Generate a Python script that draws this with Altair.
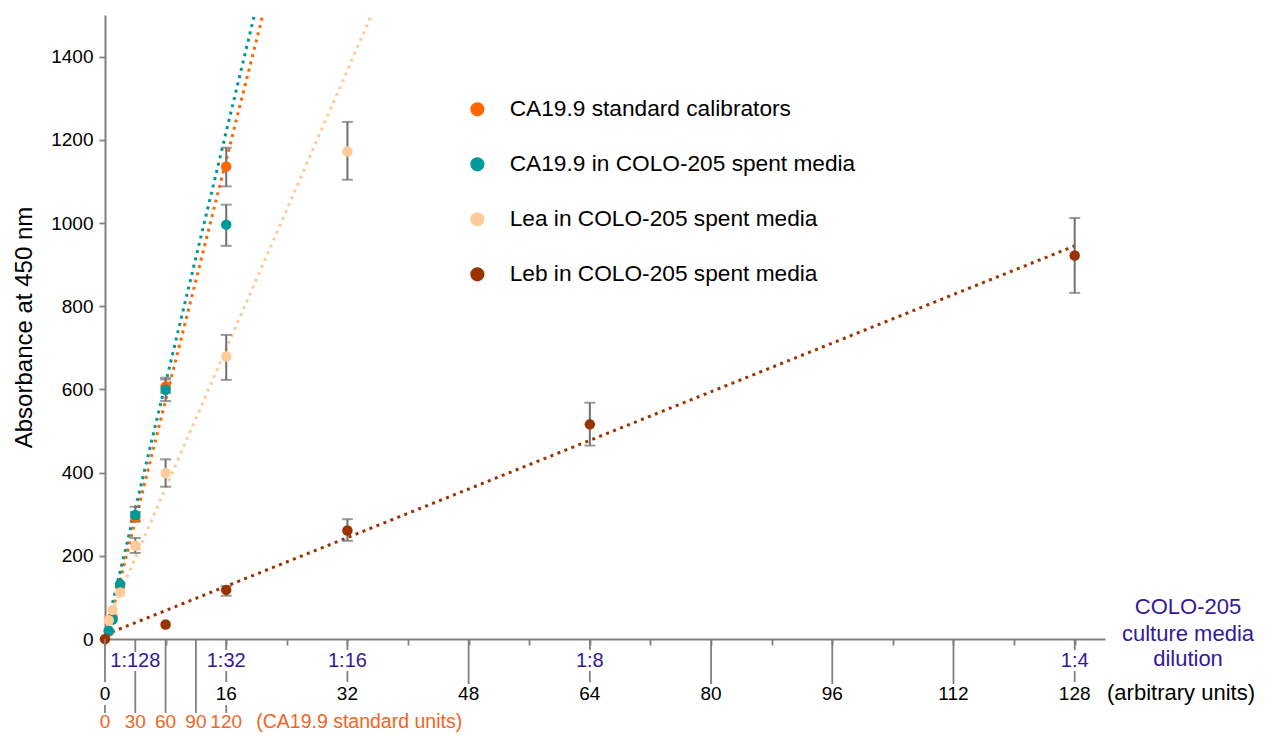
import altair as alt
import pandas as pd

FONT = "Liberation Sans"
GRAY = "#808080"
PURPLE = "#34189A"
ORANGE_TXT = "#F26522"

series_names = [
    "CA19.9 standard calibrators",
    "CA19.9 in COLO-205 spent media",
    "Lea in COLO-205 spent media",
    "Leb in COLO-205 spent media",
]
series_colors = ["#FF6600", "#009999", "#FFCC99", "#993300"]

# data points (x in arbitrary units, y absorbance)
std_x = [0.5, 1, 2, 4, 8, 16]
std_y = [18, 52, 128, 292, 607, 1136]
teal_x = [0.5, 1, 2, 4, 8, 16]
teal_y = [20, 47, 132, 298, 599, 996]
lea_x = [0.5, 1, 2, 4, 8, 16, 32]
lea_y = [45, 70, 112, 224, 399, 679, 1172]
leb_x = [0, 8, 16, 32, 64, 128]
leb_y = [0, 35, 118, 261, 516, 922]

# error bars: series index, x, low, high
err_series = [0, 0, 0, 1, 1, 1, 2, 2, 2, 2, 3, 3, 3, 3]
err_x = [4, 8, 16, 4, 8, 16, 4, 8, 16, 32, 16, 32, 64, 128]
err_lo = [282, 592, 1088, 284, 572, 945, 207, 366, 623, 1104, 104, 236, 465, 832]
err_hi = [305, 628, 1181, 318, 624, 1044, 243, 432, 731, 1243, 127, 288, 568, 1012]

# trend line endpoints
trend_x0 = [0.3, 0.3, 0.5, 0]
trend_y0 = [18, 34, 49, 10]
trend_x1 = [20.83, 19.72, 35.17, 128]
trend_y1 = [1500, 1500, 1500, 945]

# axis labels
dil_labels = ["1:128", "1:32", "1:16", "1:8", "1:4"]
dil_pos = [4, 16, 32, 64, 128]
arb_ticks = [0, 16, 32, 48, 64, 80, 96, 112, 128]
std_units = [0, 30, 60, 90, 120]
y_ticks = [0, 200, 400, 600, 800, 1000, 1200, 1400]

pts = pd.DataFrame({
    "series": [series_names[0]] * len(std_x) + [series_names[1]] * len(teal_x)
    + [series_names[2]] * len(lea_x) + [series_names[3]] * len(leb_x),
    "x": std_x + teal_x + lea_x + leb_x,
    "y": std_y + teal_y + lea_y + leb_y,
})
errs = pd.DataFrame({
    "series": [series_names[i] for i in err_series],
    "x": err_x, "lo": err_lo, "hi": err_hi,
})
trend_rows = []
for i, s in enumerate(series_names):
    trend_rows.append({"fit": s, "x": trend_x0[i], "y": trend_y0[i], "o": 0})
    trend_rows.append({"fit": s, "x": trend_x1[i], "y": trend_y1[i], "o": 1})
trend = pd.DataFrame(trend_rows)

x_scale = alt.Scale(domain=[0, 132], nice=False, zero=False)
y_scale = alt.Scale(domain=[0, 1500], nice=False)
color_scale = alt.Scale(domain=series_names, range=series_colors)

x_axis = alt.Axis(values=list(range(0, 133, 4)), labels=False, title=None, tickSize=6,
                  tickColor=GRAY, tickWidth=1.8, domainColor=GRAY, domainWidth=2, grid=False)
y_axis = alt.Axis(values=y_ticks, format="d", title="Absorbance at 450 nm", titleFontSize=24,
                  titleFont=FONT, titleFontWeight="normal", titleColor="black", titlePadding=14,
                  labelFontSize=19, labelFont=FONT, labelColor="black", labelPadding=6,
                  tickSize=6, tickColor=GRAY, tickWidth=1.8, domainColor=GRAY, domainWidth=2,
                  grid=False)

X = alt.X("x:Q", scale=x_scale, axis=x_axis)
Y = alt.Y("y:Q", scale=y_scale, axis=y_axis)

points = alt.Chart(pts).mark_circle(size=110, opacity=1).encode(
    x=X, y=Y,
    color=alt.Color("series:N", scale=color_scale, legend=alt.Legend(
        title=None, orient="none", legendX=361, legendY=83, symbolSize=200, symbolType="circle",
        labelFontSize=22.7, labelFont=FONT, labelColor="black", labelOffset=21, rowPadding=31,
        padding=0, labelLimit=600, symbolOpacity=1)),
)

lines = alt.Chart(trend).mark_line(strokeWidth=3, strokeDash=[3, 4.5]).encode(
    x=alt.X("x:Q", scale=x_scale),
    y=alt.Y("y:Q", scale=y_scale),
    stroke=alt.Stroke("fit:N", scale=alt.Scale(domain=series_names, range=series_colors), legend=None),
    order="o:Q",
)

err_rule = alt.Chart(errs).mark_rule(color="#707070", strokeWidth=2).encode(
    x=alt.X("x:Q", scale=x_scale),
    y=alt.Y("lo:Q", scale=y_scale),
    y2="hi:Q",
)
err_cap_lo = alt.Chart(errs).mark_tick(color="#707070", orient="horizontal", size=11, thickness=2).encode(
    x=alt.X("x:Q", scale=x_scale), y=alt.Y("lo:Q", scale=y_scale))
err_cap_hi = alt.Chart(errs).mark_tick(color="#707070", orient="horizontal", size=11, thickness=2).encode(
    x=alt.X("x:Q", scale=x_scale), y=alt.Y("hi:Q", scale=y_scale))

layers = [points, lines, err_rule, err_cap_lo, err_cap_hi]

# long tick segments below the x axis (pixel rows inside the chart)
seg_groups = [
    ([0], 624, 667), ([0], 690, 698),
    ([4], 624, 637), ([4], 656, 698),
    ([8, 12], 624, 698),
    ([16], 624, 635), ([16, 32, 64, 128], 656, 667), ([16], 690, 698),
    ([32, 64, 128], 624, 635),
    ([48, 80, 96, 112], 624, 669),
]
for xs, a, b in seg_groups:
    layers.append(alt.Chart(pd.DataFrame({"x": xs})).mark_rule(color=GRAY, strokeWidth=1.8).encode(
        x=alt.X("x:Q", scale=x_scale), y=alt.value(a), y2=alt.value(b)))

# dilution labels
layers.append(alt.Chart(pd.DataFrame({"x": dil_pos, "t": dil_labels})).mark_text(
    font=FONT, fontSize=20, color=PURPLE, baseline="middle", align="center").encode(
    x=alt.X("x:Q", scale=x_scale), y=alt.value(646), text="t:N"))
# arbitrary units labels
layers.append(alt.Chart(pd.DataFrame({"x": arb_ticks})).mark_text(
    font=FONT, fontSize=19, color="black", baseline="middle", align="center").encode(
    x=alt.X("x:Q", scale=x_scale), y=alt.value(679), text="x:Q"))
# CA19.9 standard units labels (120 standard units = 16 arbitrary units)
layers.append(alt.Chart(pd.DataFrame({"s": std_units})).transform_calculate(
    x="datum.s * 16 / 120").mark_text(
    font=FONT, fontSize=19, color=ORANGE_TXT, baseline="middle", align="center").encode(
    x=alt.X("x:Q", scale=x_scale), y=alt.value(707), text="s:Q"))
layers.append(alt.Chart(pd.DataFrame({"x": [16], "t": ["(CA19.9 standard units)"]})).mark_text(
    font=FONT, fontSize=19.5, color=ORANGE_TXT, baseline="middle", align="left", dx=30).encode(
    x=alt.X("x:Q", scale=x_scale), y=alt.value(707), text="t:N"))

# right-hand axis caption
for t, py, col, px in [("COLO-205", 592, PURPLE, 1083), ("culture media", 619, PURPLE, 1083),
                       ("dilution", 644, PURPLE, 1083), ("(arbitrary units)", 678, "black", 1076)]:
    layers.append(alt.Chart(pd.DataFrame({"t": [t]})).mark_text(
        font=FONT, fontSize=22, color=col, baseline="middle", align="center").encode(
        x=alt.value(px), y=alt.value(py), text="t:N"))

# keep points drawn above lines and error bars
layers = layers[1:5] + [layers[0]] + layers[5:]

chart = alt.layer(*layers).properties(
    width=1000, height=624,
    autosize=alt.AutoSizeParams(type="none"),
    padding={"left": 97, "top": 7, "right": 155, "bottom": 98},
).resolve_legend(stroke="independent").configure_view(stroke=None)

chart.save("out.html", embed_options={"renderer": "svg", "actions": False})
